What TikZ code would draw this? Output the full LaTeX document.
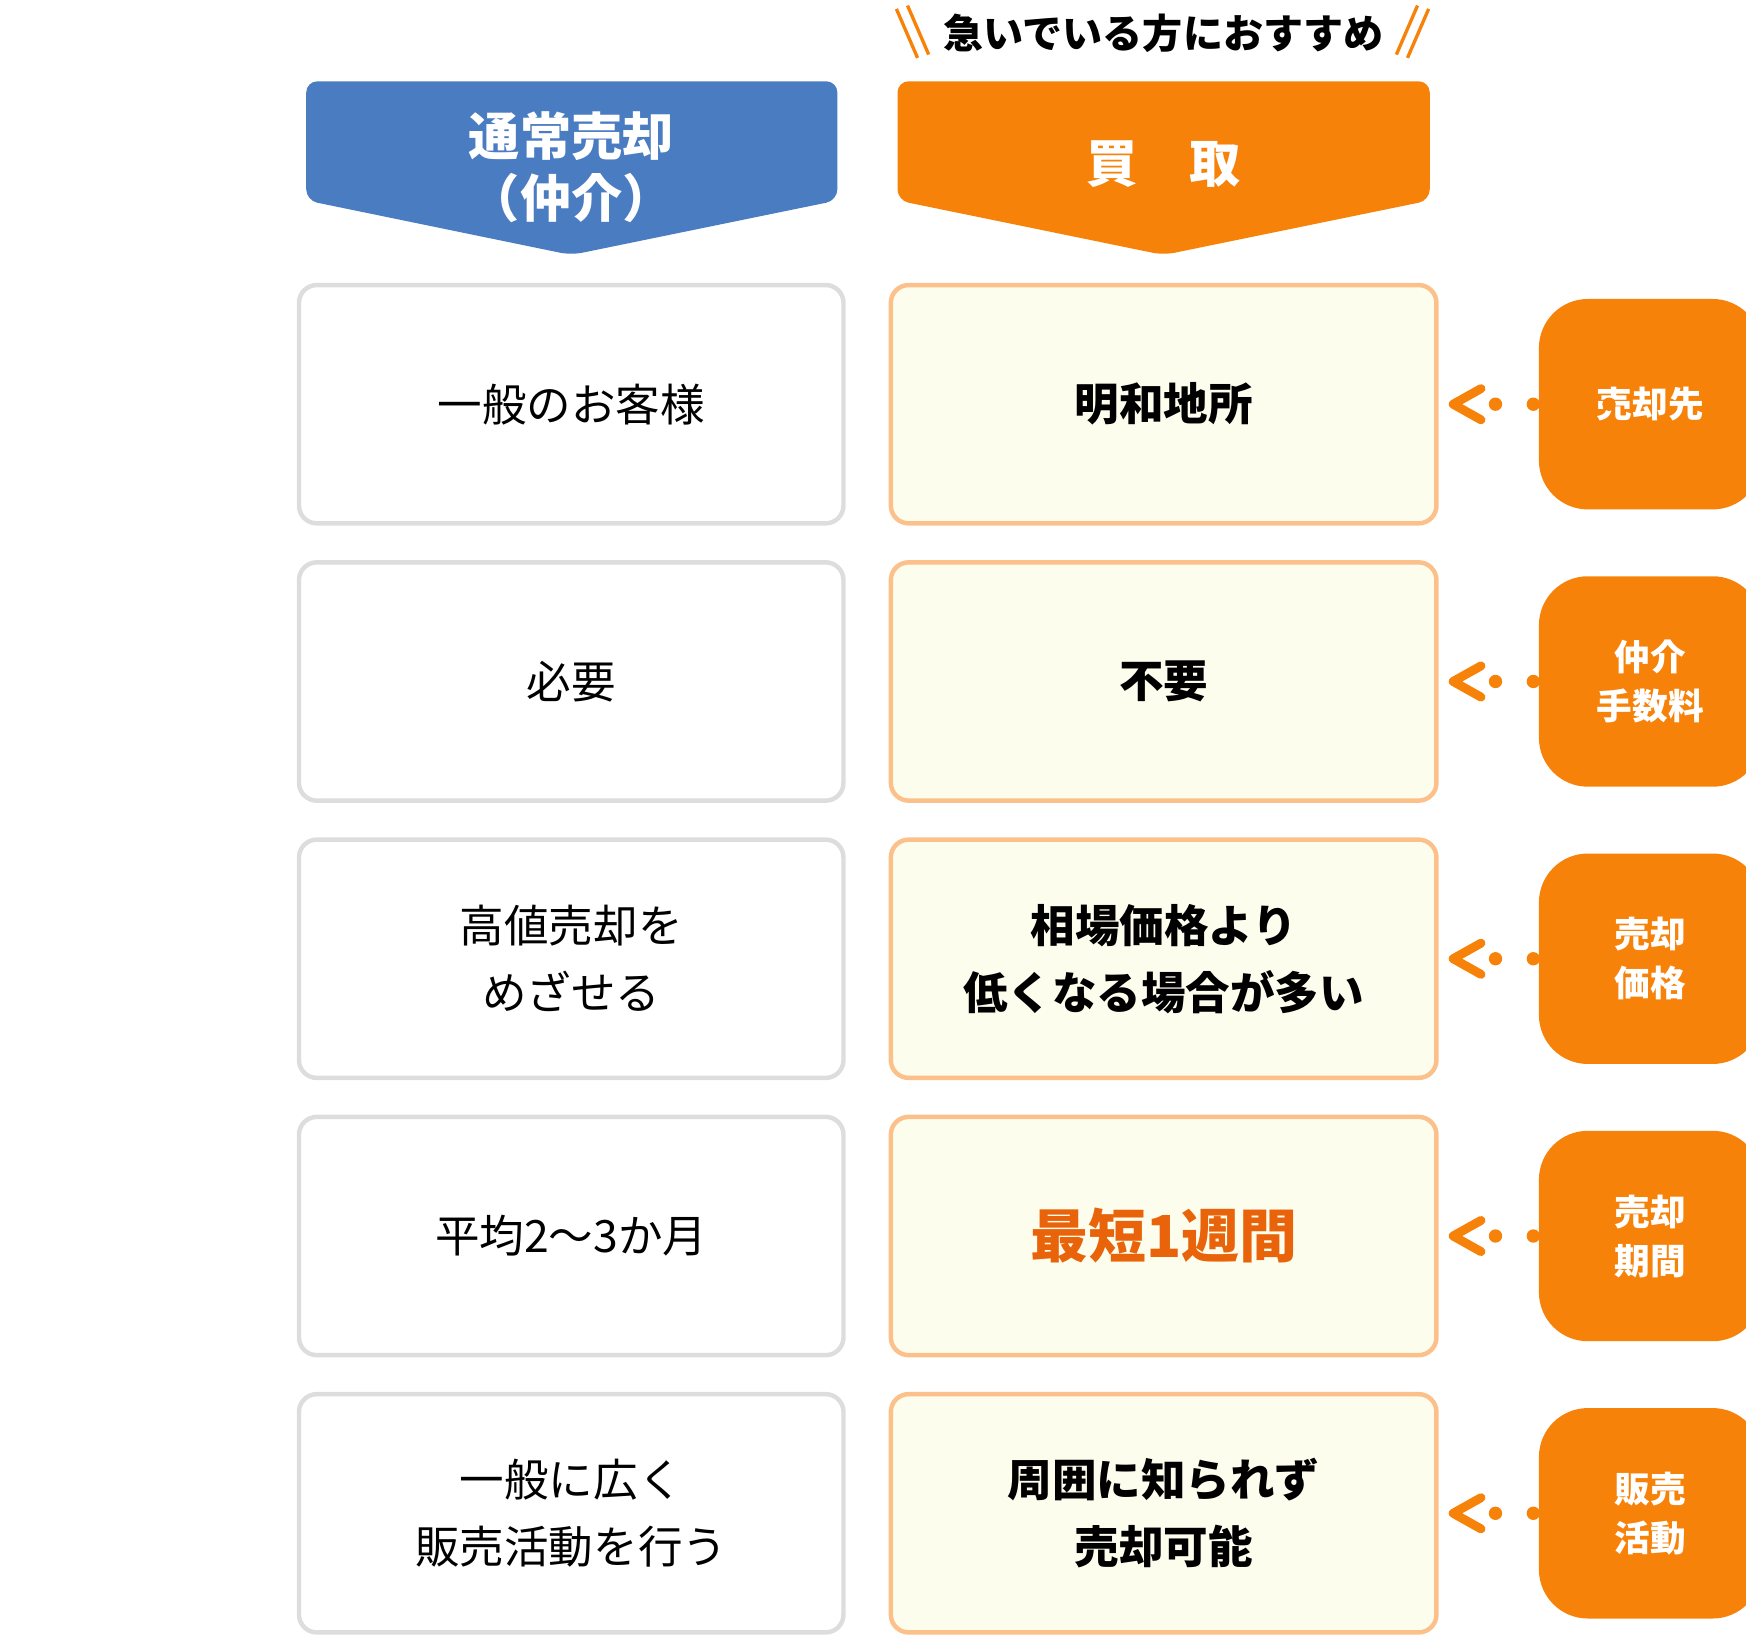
\documentclass[tikz,border=0pt]{standalone}
\usepackage{fontspec}
\setmainfont{Noto Sans CJK JP}
\definecolor{blu}{HTML}{4A7CC2}
\definecolor{org}{HTML}{F7820A}
\definecolor{dorg}{HTML}{E8630A}
\definecolor{gbd}{HTML}{DDDDDD}
\definecolor{obd}{HTML}{FCC08A}
\definecolor{ofl}{HTML}{FDFDEE}
\begin{document}
\begin{tikzpicture}[x=0.5pt,y=-0.5pt,
 lbox/.style={draw=gbd,line width=2pt,rounded corners=8pt,fill=white,minimum width=244.5pt,minimum height=107pt,align=center,font=\fontsize{20}{30}\selectfont},
 rbox/.style={draw=obd,line width=2pt,rounded corners=8pt,fill=ofl,minimum width=245pt,minimum height=107pt,align=center,font=\fontsize{20}{30}\selectfont\bfseries},
 tag/.style={fill=org,rounded corners=22pt,minimum width=100pt,minimum height=94.5pt,text=white,align=center,font=\fontsize{16}{22}\selectfont\bfseries,inner sep=0pt},
 arr/.style={org,line width=4pt,line cap=round,line join=round}]
\useasboundingbox (0,0) rectangle (1568,1471);
\clip (0,0) rectangle (1568,1471);
% headers
\fill[blu,rounded corners=5pt] (275,73) -- (752,73) -- (752,180) -- (513,229) -- (275,180) -- cycle;
\node[text=white,font=\fontsize{23}{28}\selectfont\bfseries,align=center] (h1) at (513,150) {通常売却\\（仲介）};
\fill[org,rounded corners=5pt] (806,73) -- (1284,73) -- (1284,180) -- (1045,229) -- (806,180) -- cycle;
\node[text=white,font=\fontsize{23}{28}\selectfont\bfseries] (h2) at (1045,147) {買　取};
\node[font=\fontsize{18}{22}\selectfont\bfseries] (top) at (1045,30) {急いでいる方におすすめ};
\draw[org,line width=1.5pt] (805,8) -- (824,52) (815,5) -- (834,49) (1264,52) -- (1283,8) (1254,49) -- (1273,5);
% rows
\foreach \y/\l/\r/\t [count=\i] in {363/一般のお客様/明和地所/売却先,
 612/必要/不要/仲介\\手数料,
 861/高値売却を\\めざせる/相場価格より\\低くなる場合が多い/売却\\価格,
 1110/平均2～3か月/{\textcolor{dorg}{\fontsize{26}{30}\selectfont 最短1週間}}/売却\\期間,
 1359/一般に広く\\販売活動を行う/周囲に知られず\\売却可能/販売\\活動}{
 \node[lbox] (L\i) at (513,\y) {\l};
 \node[rbox] (R\i) at (1045,\y) {\r};
 \node[tag] (T\i) at (1482,\y) {\t};
 \coordinate (A\i) at (1305,\y);
 \draw[arr] ([shift={(25,-14)}]A\i) -- (A\i) -- ([shift={(25,14)}]A\i);
 \foreach \d in {19,36,53,70} \fill[org] ([xshift=\d]A\i) circle (3pt);
}
\end{tikzpicture}
\end{document}
